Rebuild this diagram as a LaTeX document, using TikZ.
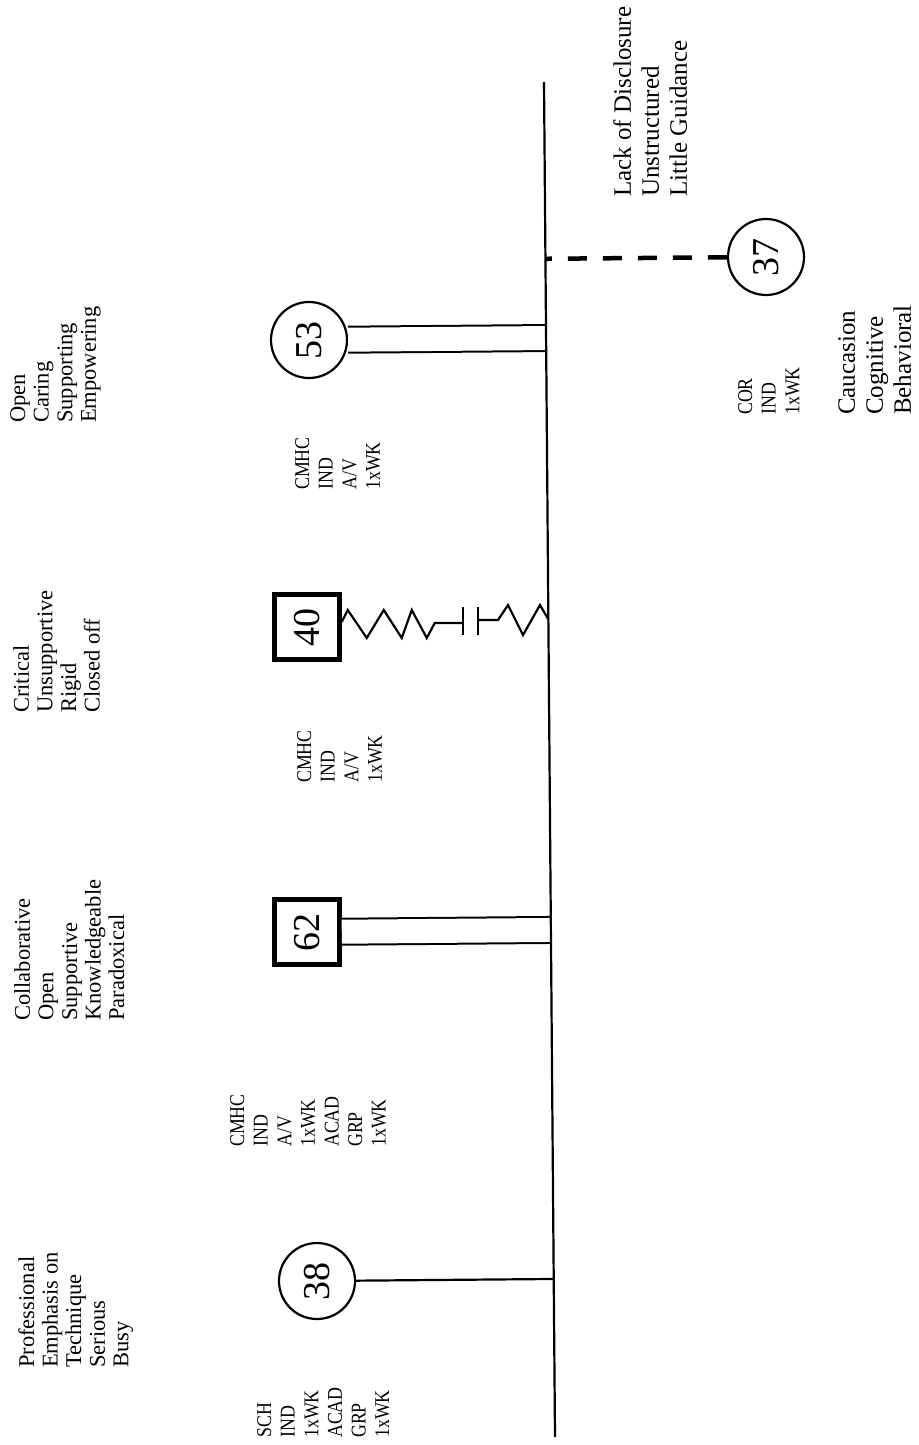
\documentclass[tikz,border=0pt]{standalone}
\usepackage{fontspec}
\setmainfont{Liberation Serif}
\newfontfamily\tagfont[FakeStretch=0.85]{Liberation Serif}
\usetikzlibrary{calc}

\tikzset{
  words/.style={rotate=90, anchor=north west, align=left, inner sep=0pt,
    font=\fontsize{22.5}{23.6}\selectfont},
  bigwords/.style={words, font=\fontsize{25}{28}\selectfont},
  tags/.style={words, font=\tagfont\fontsize{21}{23.6}\selectfont},
  ring/.style={circle, draw, line width=2.2pt, minimum size=76pt, inner sep=0pt,
    font=\fontsize{38}{40}\selectfont},
  numbox/.style={rectangle, draw, line width=4.5pt, minimum size=65pt, inner sep=0pt,
    font=\fontsize{38}{40}\selectfont},
  link/.style={line width=2.2pt},
  twin/.style={double, double distance=24pt, line width=2pt},
  weak/.style={line width=4.5pt, dash pattern=on 19pt off 16pt}
}

\begin{document}
\begin{tikzpicture}[x=1pt, y=-1pt]
  \useasboundingbox (0,0) rectangle (918,1445);

  % the line
  \coordinate (axtop) at (544,82);
  \coordinate (axbot) at (555,1437);

  % people
  \node (37) [ring] at (766,257) {\rotatebox{90}{37}};
  \node (53) [ring] at (309,340) {\rotatebox{90}{53}};
  \node (40) [numbox] at (307,627) {\rotatebox{90}{40}};
  \node (62) [numbox] at (307,932) {\rotatebox{90}{62}};
  \node (38) [ring] at (317,1281) {\rotatebox{90}{38}};

  % words
  \node (53t) [words] at (10,423) {Open\\Caring\\Supporting\\Empowering};
  \node (40t) [words] at (13,713) {Critical\\Unsupportive\\Rigid\\Closed off};
  \node (62t) [words] at (14,1021) {Collaborative\\Open\\Supportive\\Knowledgeable\\Paradoxical};
  \node (38t) [words] at (18,1368) {Professional\\Emphasis on\\Technique\\Serious\\Busy};
  \node (37t) [bigwords] at (613,197) {Lack of Disclosure\\Unstructured\\Little Guidance};
  \node (37c) [bigwords] at (838,415) {Caucasion\\Cognitive\\Behavioral};

  % settings
  \node (53s) [tags] at (295,490) {CMHC\\IND\\A/V\\1xWK};
  \node (40s) [tags] at (297,783) {CMHC\\IND\\A/V\\1xWK};
  \node (62s) [tags] at (230,1147) {CMHC\\IND\\A/V\\1xWK\\ACAD\\GRP\\1xWK};
  \node (38s) [tags] at (257,1438) {SCH\\IND\\1xWK\\ACAD\\GRP\\1xWK};
  \node (37s) [tags] at (738,415) {COR\\IND\\1xWK};

  % ties
  \draw[weak] (37) -- ($(axtop)!(37)!(axbot)$);
  \draw[twin] (53) -- ($(axtop)!(53)!(axbot)$);
  \draw[twin] (62) -- ($(axtop)!(62)!(axbot)$);
  \draw[link] (38) -- ($(axtop)!(38)!(axbot)$);

  \coordinate (capA) at (463,623);
  \coordinate (capB) at (478,620);
  \draw[link] ([yshift=5pt]40.east) -- ++(6,-12) -- ++(19,28) -- ++(17,-28)
    -- ++(18,28) -- ++(10,-28) -- ++(15,28) -- ++(8,-15) -- (capA);
  \draw[link] (capA) ++(0,-16) -- ++(0,28);
  \draw[link] (capB) ++(0,-13) -- ++(0,28);
  \draw[link] (capB) -- ++(20,0) -- ++(10,-15) -- ++(15,30) -- ++(17,-30)
    -- ($(axtop)!(capB)!(axbot)$);

  \draw[link] (axtop) -- (axbot);
\end{tikzpicture}
\end{document}
